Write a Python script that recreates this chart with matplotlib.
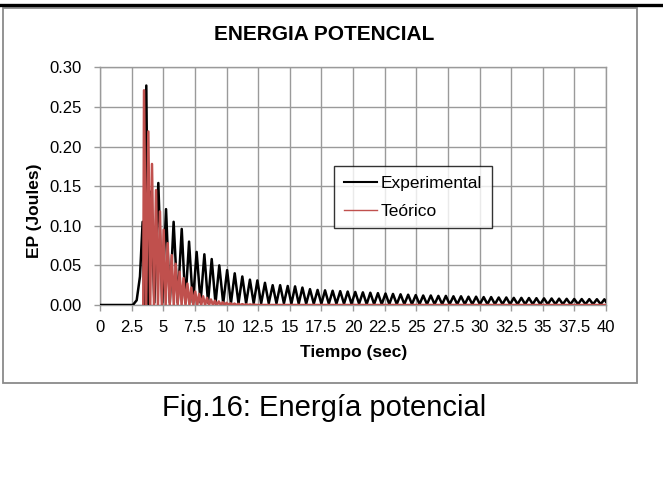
import numpy as np
import matplotlib
matplotlib.use("Agg")
import matplotlib.pyplot as plt
from matplotlib.lines import Line2D
from matplotlib.patches import Rectangle
from matplotlib.ticker import FuncFormatter

plt.rcParams['font.family'] = ['Liberation Sans', 'DejaVu Sans']

# ---------------- data ----------------
# Experimental: start of record, then peaks and troughs of the oscillation
exp_start_t = [0.0, 2.60, 2.90, 3.16]
exp_start_v = [0.0, 0.000, 0.006, 0.036]
exp_peak_t = [3.37, 3.66, 3.99, 4.61, 5.22, 5.82, 6.46, 7.04, 7.64, 8.25,
              8.83, 9.43, 10.05, 10.65, 11.25, 11.85, 12.44, 13.04, 13.65, 14.24,
              14.84, 15.42, 16.00, 16.60, 17.20, 17.79, 18.39, 18.99, 19.58, 20.18,
              20.78, 21.37, 21.97, 22.57, 23.16, 23.76, 24.36, 24.96, 25.55, 26.15,
              26.75, 27.34, 27.94, 28.54, 29.13, 29.73, 30.33, 30.92, 31.52, 32.12,
              32.71, 33.31, 33.91, 34.50, 35.10, 35.70, 36.29, 36.89, 37.49, 38.08,
              38.68, 39.28, 39.87]
exp_peak_v = [0.105, 0.277, 0.143, 0.154, 0.121, 0.105, 0.096, 0.080, 0.067, 0.064,
              0.058, 0.050, 0.044, 0.040, 0.036, 0.032, 0.031, 0.028, 0.025, 0.025,
              0.024, 0.0235, 0.022, 0.020, 0.019, 0.0185, 0.018, 0.0175, 0.017, 0.0165,
              0.016, 0.0155, 0.015, 0.0145, 0.014, 0.0135, 0.013, 0.0125, 0.012, 0.012,
              0.0115, 0.0115, 0.011, 0.011, 0.0105, 0.0105, 0.010, 0.010, 0.0095, 0.0095,
              0.009, 0.009, 0.0088, 0.0086, 0.0084, 0.0082, 0.008, 0.0078, 0.0076, 0.0075,
              0.0074, 0.0073, 0.0072]
exp_trough_t = [3.50, 3.82, 4.30, 4.92, 5.52, 6.14, 6.75, 7.34, 7.95, 8.54,
                9.13, 9.74, 10.35, 10.95, 11.55, 12.15, 12.74, 13.34, 13.95, 14.54,
                15.13, 15.71, 16.30, 16.90, 17.50, 18.09, 18.69, 19.29, 19.88, 20.48,
                21.08, 21.67, 22.27, 22.87, 23.46, 24.06, 24.66, 25.26, 25.85, 26.45,
                27.05, 27.64, 28.24, 28.84, 29.43, 30.03, 30.63, 31.22, 31.82, 32.42,
                33.01, 33.61, 34.21, 34.80, 35.40, 36.00, 36.59, 37.19, 37.79, 38.38,
                38.98, 39.58, 40.00]
exp_trough_v = [0.000, 0.001, 0.003, 0.003, 0.003, 0.003, 0.003, 0.003, 0.003, 0.003,
                0.002, 0.002, 0.002, 0.002, 0.002, 0.002, 0.002, 0.002, 0.002, 0.002,
                0.0015, 0.0015, 0.0015, 0.0015, 0.0015, 0.0015, 0.0015, 0.0015, 0.0015, 0.0015,
                0.001, 0.001, 0.001, 0.001, 0.001, 0.001, 0.001, 0.001, 0.001, 0.001,
                0.001, 0.001, 0.001, 0.001, 0.001, 0.001, 0.001, 0.001, 0.001, 0.001,
                0.001, 0.001, 0.001, 0.001, 0.001, 0.001, 0.001, 0.001, 0.001, 0.001,
                0.001, 0.001, 0.004]

# Teorico: damped oscillation peaks and troughs
teo_peak_t = [3.48, 3.82, 4.11, 4.43, 4.74, 5.03, 5.35, 5.67, 5.98, 6.29,
              6.60, 6.91, 7.22, 7.53, 7.84, 8.15, 8.46, 8.77, 9.08, 9.39,
              9.70, 10.01, 10.32, 10.63, 10.94, 11.25, 11.56, 11.87, 12.18]
teo_peak_v = [0.271, 0.219, 0.178, 0.145, 0.118, 0.095, 0.078, 0.063, 0.052, 0.042,
              0.034, 0.027, 0.022, 0.017, 0.014, 0.011, 0.009, 0.007, 0.0055, 0.0045,
              0.0035, 0.0028, 0.0022, 0.0018, 0.0014, 0.0011, 0.0009, 0.0007, 0.0005]
teo_trough_t = [3.42, 3.65, 3.97, 4.27, 4.58, 4.89, 5.19, 5.51, 5.83, 6.14,
                6.45, 6.76, 7.07, 7.38, 7.69, 8.00, 8.31, 8.62, 8.93, 9.24,
                9.55, 9.86, 10.17, 10.48, 10.79, 11.10, 11.41, 11.72, 12.03, 12.40, 40.0]
teo_trough_v = [0.0] * 31

x_ticks = [0, 2.5, 5, 7.5, 10, 12.5, 15, 17.5, 20, 22.5, 25, 27.5, 30, 32.5, 35, 37.5, 40]
y_ticks = [0.00, 0.05, 0.10, 0.15, 0.20, 0.25, 0.30]

# ---------------- build series ----------------
def merge(ts, vs):
    order = np.argsort(ts, kind='stable')
    return np.asarray(ts)[order], np.asarray(vs)[order]

exp_t, exp_v = merge(exp_start_t + exp_peak_t + exp_trough_t,
                     exp_start_v + exp_peak_v + exp_trough_v)
teo_t, teo_v = merge(teo_peak_t + teo_trough_t, teo_peak_v + teo_trough_v)

W, H = 663, 482
fig = plt.figure(figsize=(W / 100, H / 100), dpi=100)
fig.patch.set_facecolor('white')

def fx(px):
    return px / W

def fy(py):
    return 1 - py / H

# top black rule and chart frame
fig.add_artist(Line2D([0, 1], [fy(5), fy(5)], transform=fig.transFigure,
                      color='black', lw=2.4))
fig.add_artist(Rectangle((fx(3), fy(383)), fx(634), 375 / H, transform=fig.transFigure,
                         fill=False, edgecolor='#8a8a8a', lw=1.3))

ax = fig.add_axes([fx(100), fy(305), fx(506), 237.7 / H])
ax.plot(exp_t, exp_v, color='black', lw=1.8, label='Experimental', zorder=3)
ax.plot(teo_t, teo_v, color='#C0504D', lw=1.8, label='Teórico', zorder=4)

ax.set_xlim(0, 40)
ax.set_ylim(0, 0.30)
ax.set_xticks(x_ticks)
ax.set_yticks(y_ticks)
ax.xaxis.set_major_formatter(FuncFormatter(lambda v, p: f'{v:g}'))
ax.yaxis.set_major_formatter(FuncFormatter(lambda v, p: f'{v:.2f}'))
ax.grid(True, color='#9a9a9a', lw=1.0)
ax.set_axisbelow(True)
for s in ax.spines.values():
    s.set_color('#9a9a9a')
    s.set_linewidth(1.0)
ax.tick_params(axis='both', colors='#9a9a9a', labelcolor='black', labelsize=12,
               length=4, width=1.0)
ax.tick_params(axis='y', pad=9)
ax.tick_params(axis='x', pad=7)

leg = ax.legend(loc='upper left', bbox_to_anchor=((334 - 100) / 506, (305 - 166) / 237.7),
                borderaxespad=0, frameon=True, fancybox=False, fontsize=12.5,
                handlelength=1.95, handletextpad=0.2, borderpad=0.55, labelspacing=0.75)
leg.get_frame().set_edgecolor('black')
leg.get_frame().set_linewidth(1.0)
leg.get_lines()[0].set_linewidth(1.5)
leg.get_lines()[1].set_linewidth(1.0)

fig.text(fx(324), fy(34), 'ENERGIA POTENCIAL', ha='center', va='center',
         fontsize=15, fontweight='bold')
fig.text(fx(354), fy(352), 'Tiempo (sec)', ha='center', va='center',
         fontsize=12.5, fontweight='bold')
fig.text(fx(34), fy(211), 'EP (Joules)', ha='center', va='center', rotation=90,
         fontsize=12.5, fontweight='bold')
fig.text(fx(324), fy(408), 'Fig.16: Energía potencial', ha='center', va='center',
         fontsize=21)

fig.savefig('out.png', dpi=100)
